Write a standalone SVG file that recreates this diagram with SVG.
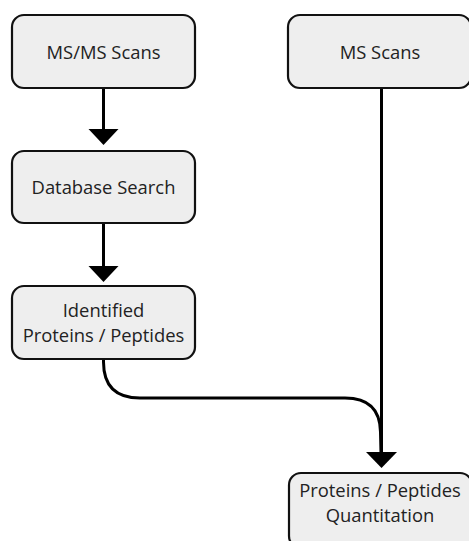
<svg xmlns="http://www.w3.org/2000/svg" width="469" height="541" viewBox="0 0 469 541">
<style>
.box{fill:#eeeeee;stroke:#111;stroke-width:2.2}
.t{font-family:"Open Sans","Noto Sans",sans-serif;font-size:18.4px;fill:#222;text-anchor:middle}
.ln{fill:none;stroke:#000;stroke-width:3}
.ah{fill:#000}
</style>
<rect width="469" height="541" fill="#fff"/>
<g id="connectors">
<line class="ln" x1="103.5" y1="88" x2="103.5" y2="131"/>
<polygon class="ah" points="88.5,129 118.5,129 103.5,145"/>
<line class="ln" x1="103.5" y1="223" x2="103.5" y2="268"/>
<polygon class="ah" points="88.5,266 118.5,266 103.5,282"/>
<line class="ln" x1="381.5" y1="88" x2="381.5" y2="454"/>
<path class="ln" d="M103.5,359 L103.5,362 Q103.5,398 140,398 L345,398 Q380,398 380.5,432 L381,454"/>
<polygon class="ah" points="366,452 397,452 381.5,468"/>
</g>
<g id="n1"><rect class="box" x="12" y="15" width="183" height="73" rx="12"/><text class="t" x="103.5" y="58.5">MS/MS Scans</text></g>
<g id="n2"><rect class="box" x="288" y="15" width="183" height="73" rx="12"/><text class="t" x="380" y="58.5">MS Scans</text></g>
<g id="n3"><rect class="box" x="12" y="151" width="183" height="72" rx="12"/><text class="t" x="103.5" y="193.5">Database Search</text></g>
<g id="n4"><rect class="box" x="12" y="286" width="183" height="73" rx="12"/><text class="t" x="103.5" y="316.5">Identified</text><text class="t" x="103.5" y="341.5">Proteins / Peptides</text></g>
<g id="n5"><rect class="box" x="289" y="473" width="183" height="75" rx="12"/><text class="t" x="380" y="496.5">Proteins / Peptides</text><text class="t" x="380" y="521.5">Quantitation</text></g>
</svg>
